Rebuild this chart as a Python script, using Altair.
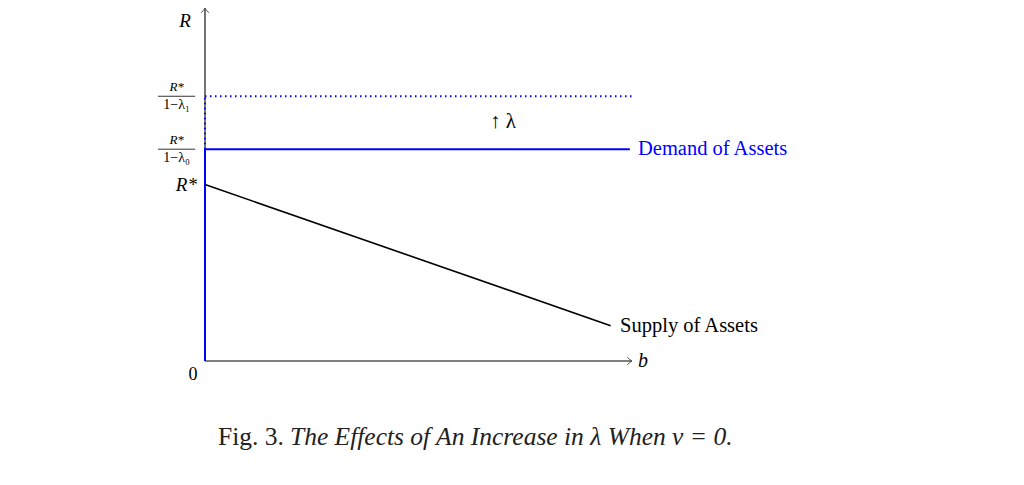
import altair as alt
import pandas as pd

# ---- data (schematic units) ----
axis_x0 = [0, 0]
axis_x1 = [10, 0]
axis_y0 = [0, 0]
axis_y1 = [0, 10]

demand_x0 = [0, 0]
demand_x1 = [0, 9.95]
demand_y0 = [0, 6.0]
demand_y1 = [6.0, 6.0]

dotted_x0 = [0, 0]
dotted_x1 = [0, 10]
dotted_y0 = [6.0, 7.5]
dotted_y1 = [7.5, 7.5]

supply_x = [0, 9.5]
supply_y = [5.0, 1.0]

FONT = "Liberation Serif"

def segs(x0, x1, y0, y1):
    return pd.DataFrame({"x": x0, "x2": x1, "y": y0, "y2": y1})

xs = alt.Scale(domain=[0, 10], nice=False, zero=False)
ys = alt.Scale(domain=[0, 10], nice=False, zero=False)

def rule_layer(df, **style):
    return alt.Chart(df).mark_rule(**style).encode(
        x=alt.X("x:Q", scale=xs, axis=None),
        x2="x2:Q",
        y=alt.Y("y:Q", scale=ys, axis=None),
        y2="y2:Q",
    )

axes = rule_layer(segs(axis_x0, axis_x1, axis_y0, axis_y1), color="black", strokeWidth=1.1)
dotted = rule_layer(segs(dotted_x0, dotted_x1, dotted_y0, dotted_y1), color="#0000ff",
                    strokeWidth=2, strokeDash=[1.5, 3.5])
demand = rule_layer(segs(demand_x0, demand_x1, demand_y0, demand_y1), color="#0000ff", strokeWidth=2)

supply = alt.Chart(pd.DataFrame({"x": supply_x, "y": supply_y})).mark_line(
    color="black", strokeWidth=1.6
).encode(x=alt.X("x:Q", scale=xs, axis=None), y=alt.Y("y:Q", scale=ys, axis=None))

# arrowheads
arrow_right = alt.Chart(pd.DataFrame({"x": [10], "y": [0]})).mark_point(
    shape="M-1,-0.8 Q-0.35,-0.15 0,0 Q-0.35,0.15 -1,0.8", filled=False,
    color="#555555", strokeWidth=1, size=90, opacity=1
).encode(x=alt.X("x:Q", scale=xs, axis=None), y=alt.Y("y:Q", scale=ys, axis=None))
arrow_up = alt.Chart(pd.DataFrame({"x": [0], "y": [10]})).mark_point(
    shape="M-0.8,1 Q-0.15,0.35 0,0 Q0.15,0.35 0.8,1", filled=False,
    color="#555555", strokeWidth=1, size=90, opacity=1
).encode(x=alt.X("x:Q", scale=xs, axis=None), y=alt.Y("y:Q", scale=ys, axis=None))

# fraction bars for tick labels
frac_x0 = [-1.1, -1.1]
frac_x1 = [-0.23, -0.23]
frac_y = [7.5, 6.0]
fracs = rule_layer(segs(frac_x0, frac_x1, frac_y, frac_y), color="black", strokeWidth=0.8)

def text_layer(labels, x, y, align="left", baseline="middle", size=18, style="normal",
               color="black"):
    df = pd.DataFrame({"t": labels, "x": x, "y": y})
    return alt.Chart(df).mark_text(
        align=align, baseline=baseline, font=FONT, fontSize=size, fontStyle=style, color=color
    ).encode(
        x=alt.X("x:Q", scale=xs, axis=None),
        y=alt.Y("y:Q", scale=ys, axis=None),
        text="t:N",
    )

t_demand = text_layer(["Demand of Assets"], [10.14], [6.0], color="#0000ff", size=20.5)
t_supply = text_layer(["Supply of Assets"], [9.72], [1.0], size=20.5)
t_b = text_layer(["b"], [10.14], [0.0], style="italic", size=20)
t_lam = text_layer(["↑ λ"], [6.98], [6.77], align="center", size=21)
t_zero = text_layer(["0"], [-0.28], [-0.4], align="center", size=18)
t_rstar = text_layer(["R*"], [-0.19], [5.0], align="right", style="italic", size=19)
t_R = text_layer(["R"], [-0.47], [9.62], align="center", style="italic", size=19)
t_num = text_layer(["R*", "R*"], [-0.665, -0.665], [7.77, 6.27], align="center",
                   style="italic", size=13)
t_den = text_layer(["1−λ₁", "1−λ₀"], [-0.665, -0.665], [7.26, 5.76], align="center",
                   size=14)

cap1 = text_layer(["Fig. 3."], [1.85], [-2.15], align="right", size=25.5, color="#222222")
cap2 = text_layer(["The Effects of An Increase in λ When v = 0."], [1.99], [-2.15],
                  align="left", style="italic", size=25.5, color="#222222")

chart = alt.layer(
    axes, dotted, demand, supply, arrow_right, arrow_up, fracs,
    t_demand, t_supply, t_b, t_lam, t_zero, t_rstar, t_R, t_num, t_den, cap1, cap2
).properties(
    width=427, height=353,
    autosize=alt.AutoSizeParams(type="none"),
    padding={"left": 197, "top": 0, "right": 384, "bottom": 115},
).configure_view(stroke=None)

chart.save("out.html", embed_options={"renderer": "svg", "actions": False})
